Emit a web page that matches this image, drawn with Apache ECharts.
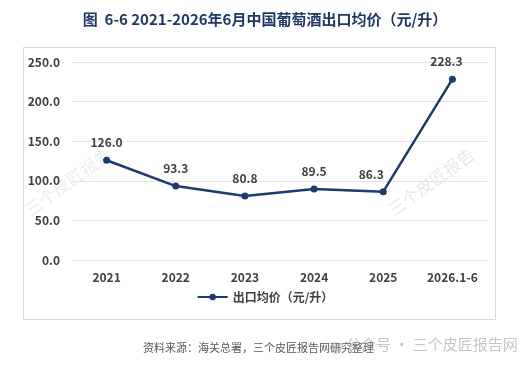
<!DOCTYPE html>
<html>
<head>
<meta charset="utf-8">
<script src="https://cdn.jsdelivr.net/npm/echarts@6/dist/echarts.min.js"></script>
<style>
html,body{margin:0;padding:0;background:#fff;}
#chart{width:530px;height:370px;}
</style>
</head>
<body>
<div id="chart"></div>
<script>
var years = ['2021', '2022', '2023', '2024', '2025', '2026.1-6'];
var prices = [126.0, 93.3, 80.8, 89.5, 86.3, 228.3];
var yTicks = [0, 50, 100, 150, 200, 250];
var seriesName = '出口均价（元/升）';

var font = '"Noto Sans CJK SC", "Noto Sans", sans-serif';
var chart = echarts.init(document.getElementById('chart'));

// a couple of labels sit a bit left of their point in the original
var labelShift = { 4: [-12, 0], 5: [-6, 0] };
var seriesData = prices.map(function (v, i) {
	var d = { value: v };
	if (labelShift[i]) d.label = { offset: labelShift[i] };
	return d;
});

var option = {
	backgroundColor: '#fff',
	textStyle: { fontFamily: font },
	title: {
		text: '图  6-6 2021-2026年6月中国葡萄酒出口均价（元/升）',
		left: 'center',
		top: 7,
		textStyle: {
			color: '#1f3864',
			fontSize: 15,
			fontWeight: 'bold',
			fontFamily: font
		}
	},
	graphic: [
		{
			type: 'rect',
			shape: { x: 23.5, y: 47.5, width: 472, height: 272 },
			style: { fill: 'none', stroke: '#d9d9d9', lineWidth: 1 },
			z: -1
		},
		{
			type: 'text',
			left: 143,
			top: 342,
			style: {
				text: '资料来源：海关总署，三个皮匠报告网研究整理',
				fill: '#595959',
				fontSize: 11,
				fontFamily: font
			}
		},
		{
			type: 'circle',
			shape: { cx: 336, cy: 348, r: 6 },
			style: { fill: 'rgba(150,150,150,0.35)' }
		},
		{
			type: 'text',
			left: 346,
			top: 337,
			style: {
				text: '公众号 · 三个皮匠报告网',
				fill: 'rgba(150,150,150,0.55)',
				fontSize: 15,
				fontFamily: font
			}
		},
		{
			type: 'text',
			x: 22, y: 205, rotation: Math.PI / 5,
			style: { text: '三个皮匠报告', fill: 'rgba(180,180,180,0.25)', fontSize: 17, fontFamily: font }
		},
		{
			type: 'text',
			x: 385, y: 205, rotation: Math.PI / 5,
			style: { text: '三个皮匠报告', fill: 'rgba(180,180,180,0.3)', fontSize: 17, fontFamily: font }
		}
	],
	legend: {
		bottom: 62,
		left: 'center',
		itemWidth: 30,
		itemHeight: 8,
		textStyle: { color: '#404040', fontSize: 12, fontWeight: 'bold', fontFamily: font },
		data: [seriesName]
	},
	grid: {
		left: 72,
		right: 43,
		top: 62,
		bottom: 110
	},
	xAxis: {
		type: 'category',
		data: years,
		boundaryGap: true,
		axisLine: { show: false },
		axisTick: { show: false },
		axisLabel: {
			color: '#404040',
			fontSize: 12,
			fontWeight: 'bold',
			margin: 11,
			fontFamily: font
		}
	},
	yAxis: {
		type: 'value',
		min: yTicks[0],
		max: yTicks[yTicks.length - 1],
		interval: 50,
		axisLine: { show: false },
		axisTick: { show: false },
		splitLine: { lineStyle: { color: '#e3e3e3', width: 1 } },
		axisLabel: {
			color: '#404040',
			fontSize: 12,
			fontWeight: 'bold',
			margin: 12,
			fontFamily: font,
			formatter: function (v) { return v.toFixed(1); }
		}
	},
	series: [{
		name: seriesName,
		type: 'line',
		data: seriesData,
		symbol: 'circle',
		symbolSize: 7,
		lineStyle: { color: '#1f3a6e', width: 2.5 },
		itemStyle: { color: '#1f3a6e' },
		label: {
			show: true,
			position: 'top',
			distance: 8,
			color: '#404040',
			fontSize: 12,
			fontWeight: 'bold',
			fontFamily: font,
			formatter: function (p) { return p.value.toFixed(1); }
		}
	}]
};
chart.setOption(option);
</script>
</body>
</html>
